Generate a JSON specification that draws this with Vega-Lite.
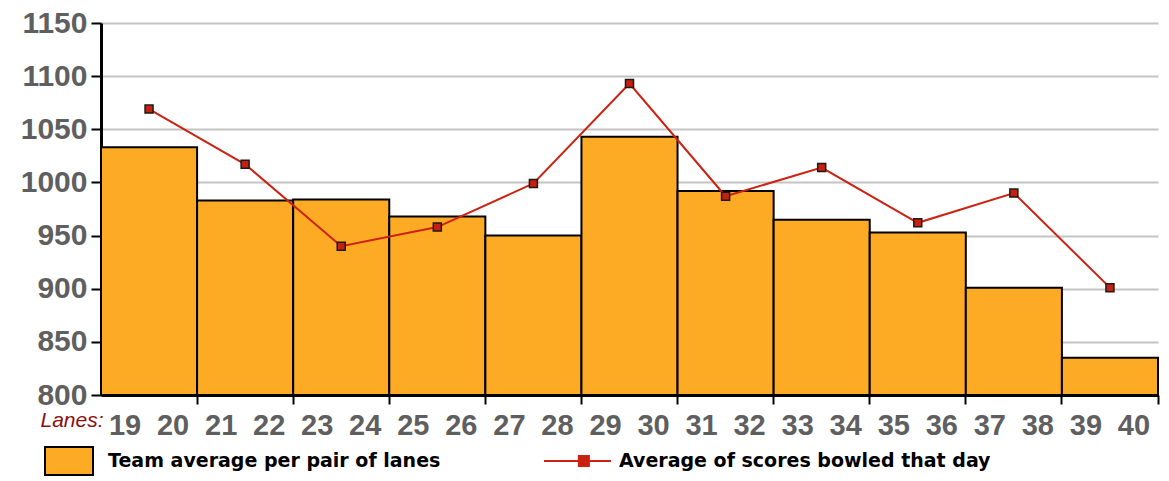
{
  "$schema": "https://vega.github.io/schema/vega-lite/v6.json",
  "width": 1057,
  "height": 372,
  "autosize": {"type": "none"},
  "padding": {"left": 101, "top": 23, "right": 11, "bottom": 86},
  "background": "white",
  "config": {"view": {"stroke": null}, "font": "Liberation Sans"},
  "data": {
    "values": [
      {"pair": "19-20", "lane1": 19, "lane2": 20, "team": 1033, "day": 1069},
      {"pair": "21-22", "lane1": 21, "lane2": 22, "team": 983, "day": 1017},
      {"pair": "23-24", "lane1": 23, "lane2": 24, "team": 984, "day": 940},
      {"pair": "25-26", "lane1": 25, "lane2": 26, "team": 968, "day": 958},
      {"pair": "27-28", "lane1": 27, "lane2": 28, "team": 950, "day": 999},
      {"pair": "29-30", "lane1": 29, "lane2": 30, "team": 1043, "day": 1093},
      {"pair": "31-32", "lane1": 31, "lane2": 32, "team": 992, "day": 987},
      {"pair": "33-34", "lane1": 33, "lane2": 34, "team": 965, "day": 1014},
      {"pair": "35-36", "lane1": 35, "lane2": 36, "team": 953, "day": 962},
      {"pair": "37-38", "lane1": 37, "lane2": 38, "team": 901, "day": 990},
      {"pair": "39-40", "lane1": 39, "lane2": 40, "team": 835, "day": 901}
    ]
  },
  "encoding": {
    "x": {
      "field": "pair",
      "type": "nominal",
      "sort": null,
      "scale": {"paddingInner": 0, "paddingOuter": 0},
      "axis": {
        "title": "Lanes:",
        "labels": false,
        "bandPosition": 1,
        "ticks": true,
        "tickSize": 9,
        "tickWidth": 2,
        "tickColor": "black",
        "domainColor": "black",
        "domainWidth": 3,
        "grid": false,
        "titleX": -61,
        "titleY": 31,
        "titleAlign": "left",
        "titleAnchor": null,
        "titleBaseline": "alphabetic",
        "titleFont": "Liberation Sans",
        "titleFontSize": 21,
        "titleFontStyle": "italic",
        "titleFontWeight": "normal",
        "titleColor": "#8B1010"
      }
    }
  },
  "layer": [
    {
      "mark": {"type": "bar", "stroke": "black", "strokeWidth": 2},
      "encoding": {
        "y": {
          "field": "team",
          "type": "quantitative",
          "scale": {"domain": [800, 1150], "nice": false, "zero": false},
          "axis": {
            "title": null,
            "format": "d",
            "values": [800, 850, 900, 950, 1000, 1050, 1100, 1150],
            "grid": true,
            "gridColor": "#c4c4c4",
            "gridWidth": 2,
            "domainColor": "black",
            "domainWidth": 3,
            "tickColor": "black",
            "tickWidth": 2,
            "tickSize": 10,
            "labelFont": "Liberation Sans",
            "labelFontSize": 30,
            "labelFontWeight": "bold",
            "labelColor": "#5f5f5f",
            "labelPadding": 4
          }
        },
        "y2": {"datum": 800},
        "color": {
          "datum": "Team average per pair of lanes",
          "scale": {"range": ["#FDAB24"]},
          "legend": {
            "orient": "none",
            "legendX": -57,
            "legendY": 413,
            "title": null,
            "symbolType": "M-1,-0.583H1V0.583H-1Z",
            "symbolSize": 2304,
            "symbolStrokeColor": "black",
            "symbolStrokeWidth": 2,
            "symbolOpacity": 1,
            "labelFont": "DejaVu Sans",
            "labelFontSize": 19,
            "labelFontWeight": "bold",
            "labelColor": "black",
            "labelOffset": 14,
            "labelLimit": 600,
            "padding": 0
          }
        }
      }
    },
    {
      "mark": {"type": "line", "strokeWidth": 2},
      "encoding": {
        "y": {"field": "day", "type": "quantitative"},
        "stroke": {
          "datum": "Average of scores bowled that day",
          "scale": {"range": ["#CC2211"]},
          "legend": {
            "orient": "none",
            "legendX": 442,
            "legendY": 403.5,
            "title": null,
            "symbolType": "M-1,0H1M0.04,-0.15H0.34V0.15H0.04Z",
            "symbolSize": 4489,
            "symbolStrokeWidth": 2,
            "symbolFillColor": "#C8200F",
            "labelFont": "DejaVu Sans",
            "labelFontSize": 19,
            "labelFontWeight": "bold",
            "labelColor": "black",
            "labelOffset": 7,
            "labelLimit": 600,
            "padding": 0
          }
        }
      }
    },
    {
      "mark": {"type": "point", "shape": "square", "filled": true, "fill": "#C8200F", "stroke": "#1a1a1a", "strokeWidth": 1.5, "size": 64, "opacity": 1},
      "encoding": {
        "y": {"field": "day", "type": "quantitative"}
      }
    },
    {
      "mark": {"type": "text", "dx": -24, "dy": 40, "baseline": "alphabetic", "align": "center", "font": "Liberation Sans", "fontSize": 29, "fontWeight": "bold", "fill": "#5f5f5f"},
      "encoding": {
        "y": {"datum": 800},
        "text": {"field": "lane1", "type": "nominal"}
      }
    },
    {
      "mark": {"type": "text", "dx": 24, "dy": 40, "baseline": "alphabetic", "align": "center", "font": "Liberation Sans", "fontSize": 29, "fontWeight": "bold", "fill": "#5f5f5f"},
      "encoding": {
        "y": {"datum": 800},
        "text": {"field": "lane2", "type": "nominal"}
      }
    }
  ]
}
